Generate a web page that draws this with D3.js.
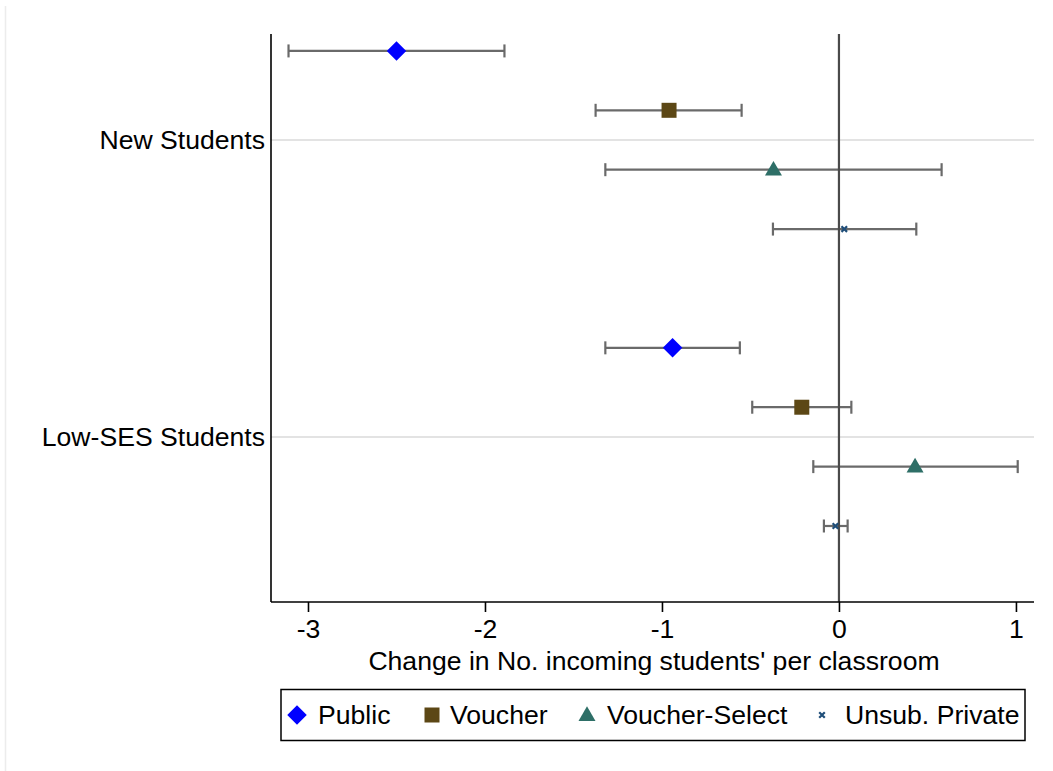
<!DOCTYPE html>
<html>
<head>
<meta charset="utf-8">
<script src="https://cdn.jsdelivr.net/npm/d3@7"></script>
<style>
  html, body { margin: 0; padding: 0; background: #ffffff; }
  svg { display: block; font-family: "Liberation Sans", Arial, Helvetica, sans-serif; }
</style>
</head>
<body>
<svg id="chart" width="1053" height="771"></svg>
<script>
// Outcome groups (rows of the coefficient plot)
const categories = ["New Students", "Low-SES Students"];
// School sector series
const series = ["Public", "Voucher", "Voucher-Select", "Unsub. Private"];
// Point estimates per series, one value per category
const pointEstimates = [
  [-2.50, -0.94],
  [-0.96, -0.21],
  [-0.37, 0.43],
  [0.03, -0.02]
];
// Lower confidence bounds
const lowerBounds = [
  [-3.11, -1.32],
  [-1.375, -0.49],
  [-1.32, -0.145],
  [-0.373, -0.085]
];
// Upper confidence bounds
const upperBounds = [
  [-1.89, -0.56],
  [-0.55, 0.07],
  [0.58, 1.01],
  [0.437, 0.049]
];
const xTicks = [-3, -2, -1, 0, 1];
const xTitle = "Change in No. incoming students' per classroom";

const colors = ["#0000ff", "#5c4715", "#2e6f67", "#1f4e79"];
const shapes = ["diamond", "square", "triangle", "x"];
const fontSize = 26.6;

const svg = d3.select("#chart");

// thin frame edge on the left
svg.append("line")
  .attr("x1", 5.5).attr("x2", 5.5).attr("y1", 6).attr("y2", 771)
  .attr("stroke", "#ececec").attr("stroke-width", 1.5);

const plot = { left: 271, right: 1034, top: 34, bottom: 602 };

const x = d3.scaleLinear().domain([-3.209, 1.102]).range([plot.left, plot.right]);
// categories sit at 1 and 2, series offsets within each group
const y = d3.scaleLinear().domain([0.643, 2.556]).range([plot.top, plot.bottom]);
const offsets = [-0.3, -0.1, 0.1, 0.3];

// horizontal gridlines at category positions
svg.append("g").selectAll("line").data(categories).join("line")
  .attr("x1", plot.left).attr("x2", plot.right)
  .attr("y1", (d, i) => y(i + 1)).attr("y2", (d, i) => y(i + 1))
  .attr("stroke", "#e3e3e3").attr("stroke-width", 2);

// category labels
svg.append("g").selectAll("text").data(categories).join("text")
  .attr("x", 265).attr("y", (d, i) => y(i + 1))
  .attr("dy", "0.35em")
  .attr("text-anchor", "end")
  .attr("font-size", fontSize)
  .attr("fill", "#000")
  .text(d => d);

// flatten the estimates into rows
const rows = [];
series.forEach((s, si) => {
  categories.forEach((c, ci) => {
    rows.push({
      si, ci,
      pos: ci + 1 + offsets[si],
      est: pointEstimates[si][ci],
      lo: lowerBounds[si][ci],
      hi: upperBounds[si][ci]
    });
  });
});

// confidence interval bars with end caps
const ciColor = "#6a6a6a";
const capHalf = 6.5;
const ci = svg.append("g").attr("stroke", ciColor).attr("stroke-width", 2.2);
ci.selectAll("line.bar").data(rows).join("line").attr("class", "bar")
  .attr("x1", d => x(d.lo)).attr("x2", d => x(d.hi))
  .attr("y1", d => y(d.pos)).attr("y2", d => y(d.pos));
ci.selectAll("line.capl").data(rows).join("line").attr("class", "capl")
  .attr("x1", d => x(d.lo)).attr("x2", d => x(d.lo))
  .attr("y1", d => y(d.pos) - capHalf).attr("y2", d => y(d.pos) + capHalf);
ci.selectAll("line.caph").data(rows).join("line").attr("class", "caph")
  .attr("x1", d => x(d.hi)).attr("x2", d => x(d.hi))
  .attr("y1", d => y(d.pos) - capHalf).attr("y2", d => y(d.pos) + capHalf);

// zero reference line
svg.append("line")
  .attr("x1", x(0)).attr("x2", x(0))
  .attr("y1", plot.top).attr("y2", plot.bottom)
  .attr("stroke", "#4a4a4a").attr("stroke-width", 2.2);

// marker drawing helper
function drawMarker(g, shape, color) {
  if (shape === "diamond") {
    g.append("path").attr("d", d3.symbol(d3.symbolSquare, 190)())
      .attr("transform", "rotate(45)").attr("fill", color);
  } else if (shape === "square") {
    g.append("path").attr("d", d3.symbol(d3.symbolSquare, 225)()).attr("fill", color);
  } else if (shape === "triangle") {
    g.append("path").attr("d", d3.symbol(d3.symbolTriangle, 125)())
      .attr("transform", "translate(0,1)").attr("fill", color);
  } else {
    g.append("path").attr("d", d3.symbol(d3.symbolX, 22)())
      .attr("fill", "none").attr("stroke", color).attr("stroke-width", 2.2);
  }
}

// point estimate markers
svg.append("g").selectAll("g").data(rows).join("g")
  .attr("transform", d => `translate(${x(d.est)},${y(d.pos)})`)
  .each(function (d) { drawMarker(d3.select(this), shapes[d.si], colors[d.si]); });

// axes lines
svg.append("line")
  .attr("x1", plot.left).attr("x2", plot.left)
  .attr("y1", plot.top).attr("y2", plot.bottom)
  .attr("stroke", "#000").attr("stroke-width", 1.6);

const xAxis = svg.append("g")
  .attr("transform", `translate(0,${plot.bottom})`)
  .call(d3.axisBottom(x).tickValues(xTicks).tickSize(10).tickPadding(7)
    .tickFormat(d => d < 0 ? "-" + Math.abs(d) : d));
xAxis.select(".domain").attr("stroke", "#000").attr("stroke-width", 1.6)
  .attr("d", `M${plot.left},0H${plot.right}`);
xAxis.selectAll(".tick line").attr("stroke", "#000").attr("stroke-width", 1.6);
xAxis.selectAll(".tick text")
  .attr("font-size", fontSize).attr("fill", "#000")
  .attr("font-family", "Liberation Sans, Arial, sans-serif");

// axis title
svg.append("text")
  .attr("x", (plot.left + plot.right) / 2 + 1.5).attr("y", 670)
  .attr("text-anchor", "middle")
  .attr("font-size", fontSize).attr("fill", "#000")
  .text(xTitle);

// legend
const legend = svg.append("g");
legend.append("rect")
  .attr("x", 281).attr("y", 689.5).attr("width", 744).attr("height", 51)
  .attr("fill", "#fff").attr("stroke", "#000").attr("stroke-width", 1.5);
const legendMarkX = [297, 432, 587, 822];
const legendTextX = [318, 450, 607, 845];
const legendY = 715;
series.forEach((s, i) => {
  const m = legend.append("g").attr("transform", `translate(${legendMarkX[i]},${legendY})`);
  drawMarker(m, shapes[i], colors[i]);
  legend.append("text")
    .attr("x", legendTextX[i]).attr("y", legendY).attr("dy", "0.35em")
    .attr("font-size", fontSize).attr("fill", "#000")
    .text(s);
});
</script>
</body>
</html>
